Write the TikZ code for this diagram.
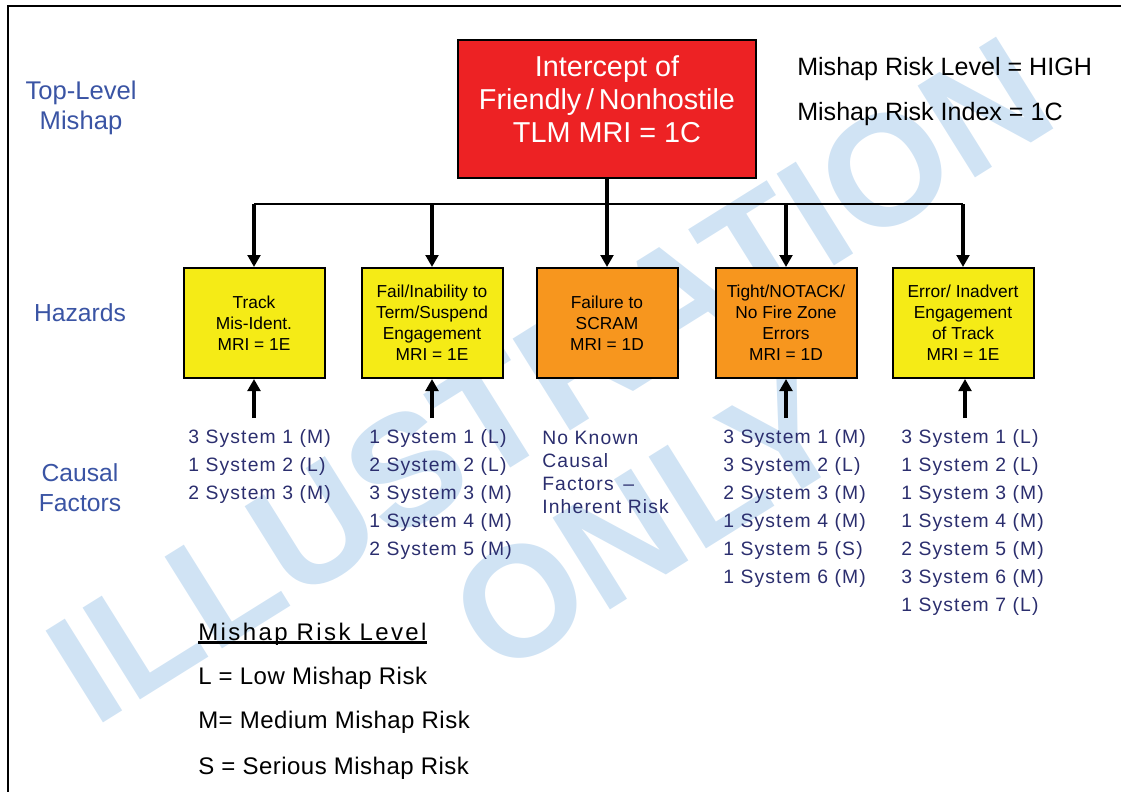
\documentclass[tikz,border=0pt]{standalone}
\usepackage{fontspec}
\setmainfont{Liberation Sans}
\usetikzlibrary{arrows.meta,shadows}
\definecolor{tlmred}{RGB}{237,34,36}
\definecolor{hazyel}{RGB}{245,235,22}
\definecolor{hazorg}{RGB}{247,150,30}
\definecolor{lblblue}{RGB}{58,84,164}
\definecolor{listnavy}{RGB}{43,46,110}
\definecolor{wmblue}{RGB}{208,227,244}
\begin{document}
\begin{tikzpicture}[x=0.75pt,y=-0.75pt,
  boxshadow/.style={drop shadow={shadow xshift=1pt,shadow yshift=-1pt,fill=black!55,opacity=0.7}},
  tlmbox/.style={draw=black,fill=tlmred,line width=1.6pt,minimum width=223.5pt,minimum height=103.5pt,inner sep=0pt,boxshadow},
  tlmtext/.style={text=white,align=center,inner sep=0pt,font=\fontsize{21.6}{24.75}\selectfont},
  hazbox/.style={draw=black,line width=1.5pt,minimum width=105.75pt,minimum height=82.5pt,align=center,inner sep=0pt,font=\fontsize{13}{15.75}\selectfont,boxshadow},
  yel/.style={hazbox,fill=hazyel},
  org/.style={hazbox,fill=hazorg},
  lbl/.style={text=lblblue,align=center,inner sep=0pt,font=\fontsize{18.5}{22.5}\selectfont},
  lst/.style={text=listnavy,align=left,anchor=north west,inner sep=0pt,font=\fontsize{14.5}{21}\selectfont\addfontfeature{LetterSpace=6}},
  lstb/.style={lst,font=\fontsize{14.5}{17.25}\selectfont\addfontfeature{LetterSpace=6}},
  info/.style={anchor=base west,inner sep=0pt,font=\fontsize{18.8}{22}\selectfont},
  leg/.style={anchor=base west,inner sep=0pt,font=\fontsize{18}{22}\selectfont\addfontfeature{LetterSpace=2}},
  wm/.style={text=wmblue,inner sep=0pt,font=\fontsize{118}{118}\selectfont\bfseries,rotate=32},
  arr/.style={line width=2.4pt,-{Triangle[length=9pt,width=9.5pt]}},
  bar/.style={line width=1.9pt}
]
\useasboundingbox (0,0) rectangle (1121,792);
% watermark
\node[wm] (wm1) at (550,380) {ILLUSTRATION};
\node[wm] (wm2) at (648,522) {ONLY};
% frame
\draw[line width=1.5pt] (8,792) -- (8,6) -- (1121,6);
% side labels
\node[lbl,font=\fontsize{19.2}{22.5}\selectfont] (lbltop) at (81,108) {Top-Level\\Mishap};
\node[lbl] (lblhaz) at (80,313) {Hazards};
\node[lbl] (lblcf) at (80,488) {Causal\\Factors};
% top-level mishap
\node[tlmbox] (tlm) at (607,109) {};
\node[tlmtext] (tlmt) at (607,99) {Intercept of\\Friendly\,/\,Nonhostile\\TLM MRI = 1C};
\node[info] (lvl) at (797,76) {Mishap Risk Level = HIGH};
\node[info] (idx) at (797,120) {Mishap Risk Index = 1C};
% hazards
\node[yel] (h1) at (254,323) {Track\\Mis-Ident.\\MRI = 1E};
\node[yel] (h2) at (432,323) {Fail/Inability to\\Term/Suspend\\Engagement\\MRI = 1E};
\node[org] (h3) at (607,323) {Failure to\\SCRAM\\MRI = 1D};
\node[org] (h4) at (786,323) {Tight/NOTACK/\\No Fire Zone\\Errors\\MRI = 1D};
\node[yel] (h5) at (963,323) {Error/ Inadvert\\Engagement\\of Track\\MRI = 1E};
% connectors
\coordinate (barl) at (0,204);
\draw[bar] (h1.north |- barl) -- (h5.north |- barl);
\draw[arr] (tlm.south) -- (h3.north);
\draw[arr] (h1.north |- barl) -- (h1.north);
\draw[arr] (h2.north |- barl) -- (h2.north);
\draw[arr] (h4.north |- barl) -- (h4.north);
\draw[arr] (h5.north |- barl) -- (h5.north);
% causal factor arrows
\coordinate (c1) at (254,418);
\coordinate (c2) at (432,418);
\coordinate (c4) at (786,418);
\coordinate (c5) at (965,418);
\draw[arr] (c1) -- (h1.south);
\draw[arr] (c2) -- (h2.south);
\draw[arr] (c4) -- (h4.south);
\draw[arr] (c5) -- (c5 |- h5.south);
% causal factor lists
\node[lst] (cf1) at (188,429) {3 System 1 (M)\\1 System 2 (L)\\2 System 3 (M)};
\node[lst] (cf2) at (369,429) {1 System 1 (L)\\2 System 2 (L)\\3 System 3 (M)\\1 System 4 (M)\\2 System 5 (M)};
\node[lstb] (cf3) at (542,431) {No Known\\Causal\\Factors\enspace–\\Inherent Risk};
\node[lst] (cf4) at (723,429) {3 System 1 (M)\\3 System 2 (L)\\2 System 3 (M)\\1 System 4 (M)\\1 System 5 (S)\\1 System 6 (M)};
\node[lst] (cf5) at (901,429) {3 System 1 (L)\\1 System 2 (L)\\1 System 3 (M)\\1 System 4 (M)\\2 System 5 (M)\\3 System 6 (M)\\1 System 7 (L)};
% legend
\node[leg,font=\fontsize{18}{22}\selectfont\addfontfeature{LetterSpace=10}] (legt) at (198,640) {Mishap Risk Level};
\draw[line width=2.2pt] ([yshift=-2pt]legt.base west) -- ([yshift=-2pt]legt.base east);
\node[leg] (legl) at (198,684) {L = Low Mishap Risk};
\node[leg] (legm) at (198,728) {M= Medium Mishap Risk};
\node[leg] (legs) at (198,774) {S = Serious Mishap Risk};
\end{tikzpicture}
\end{document}
